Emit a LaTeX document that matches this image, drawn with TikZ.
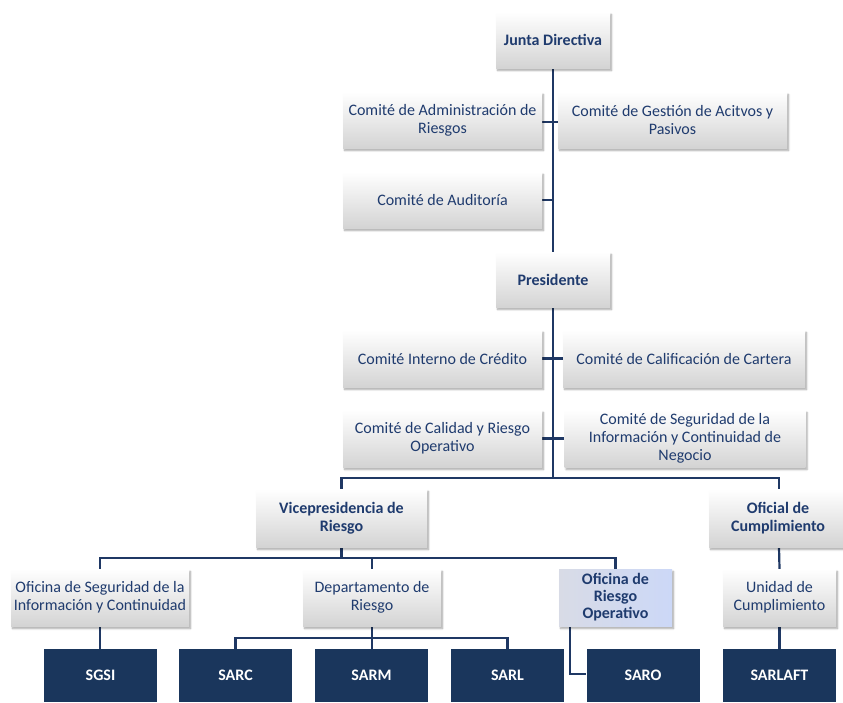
\documentclass[tikz,border=0pt]{standalone}
\usepackage{fontspec}
\setmainfont{Carlito}
\usetikzlibrary{shadows.blur,backgrounds}
\definecolor{linec}{HTML}{1F3864}
\definecolor{boxnavy}{HTML}{1A365C}
\definecolor{txtc}{HTML}{1F3B6E}
\definecolor{oroL}{HTML}{D8DBE6}
\definecolor{oroR}{HTML}{CCD8F7}
\tikzset{
  gbox/.style={shade, top color=white, bottom color=black!17, blur shadow={shadow xshift=1.5pt, shadow yshift=-2.5pt, shadow opacity=35, shadow blur steps=5},
    text=txtc, align=center, inner sep=2pt, font=\fontsize{16}{18.3}\selectfont},
  bbox/.style={gbox, font=\fontsize{16}{18.3}\selectfont\bfseries},
  orobox/.style={shade, left color=oroL, right color=oroR, blur shadow={shadow xshift=1.5pt, shadow yshift=-2.5pt, shadow opacity=35, shadow blur steps=5},
    text=txtc, align=center, inner sep=2pt, font=\fontsize{16}{17}\selectfont\bfseries},
  sbox/.style={fill=boxnavy, text=white, align=center, inner sep=2pt, font=\fontsize{16}{18.3}\selectfont\bfseries, minimum width=113pt, minimum height=53pt},
  conn/.style={draw=linec, line width=2.2pt},
}
\begin{document}
\begin{tikzpicture}[x=1pt,y=-1pt]
\useasboundingbox (0,0) rectangle (843,702);
% top
\node[bbox, minimum width=114pt, minimum height=56pt] (jd) at (553,40) {Junta Directiva};
\node[gbox, minimum width=199pt, minimum height=56pt] (car) at (442.5,120) {Comité de Administración de\\Riesgos};
\node[gbox, minimum width=229pt, minimum height=56pt] (cga) at (672.5,120) {Comité de Gestión de Acitvos y\\Pasivos};
\node[gbox, minimum width=199pt, minimum height=56pt] (cau) at (442.5,200) {Comité de Auditoría};
\node[bbox, minimum width=114pt, minimum height=55pt] (pres) at (553,279.5) {Presidente};
\node[gbox, minimum width=199pt, minimum height=57pt] (cic) at (442.5,358.5) {Comité Interno de Crédito};
\node[gbox, minimum width=242pt, minimum height=57pt] (ccc) at (684,358.5) {Comité de Calificación de Cartera};
\node[gbox, minimum width=199pt, minimum height=57pt] (ccr) at (442.5,438.5) {Comité de Calidad y Riesgo\\Operativo};
\node[gbox, minimum width=241pt, minimum height=57pt] (csi) at (685,438.5) {Comité de Seguridad de la\\Información y Continuidad de\\Negocio};
% middle
\node[bbox, minimum width=171pt, minimum height=58pt] (vp) at (341.5,518) {Vicepresidencia de\\Riesgo};
\node[bbox, minimum width=138pt, minimum height=58pt] (oc) at (778,518) {Oficial de\\Cumplimiento};
\node[gbox, minimum width=178pt, minimum height=57pt] (osi) at (100,597.5) {Oficina de Seguridad de la\\Información y Continuidad};
\node[gbox, minimum width=138pt, minimum height=57pt] (dep) at (372,597.5) {Departamento de\\Riesgo};
\node[orobox, minimum width=113pt, minimum height=57pt] (oro) at (615.5,597.5) {Oficina de\\Riesgo\\Operativo};
\node[gbox, minimum width=113pt, minimum height=57pt] (uc) at (779.5,597.5) {Unidad de\\Cumplimiento};
% bottom
\node[sbox] (sgsi) at (100.5,675.5) {SGSI};
\node[sbox] (sarc) at (235.5,675.5) {SARC};
\node[sbox] (sarm) at (371.5,675.5) {SARM};
\node[sbox] (sarl) at (507.5,675.5) {SARL};
\node[sbox] (saro) at (643,675.5) {SARO};
\node[sbox] (sarlaft) at (779.5,675.5) {SARLAFT};
% connectors
\begin{scope}[on background layer]
\coordinate (b1) at (553,478);
\coordinate (b2) at (341.5,558);
\coordinate (b3) at (372,638);
\draw[conn] (jd.south) -- (pres.north);
\draw[conn] ([yshift=-2pt]car.east) -- ([yshift=-2pt]cga.west);
\draw[conn] (cau.east) -- (jd.south |- cau.east);
\draw[conn] (cic.east) -- (ccc.west);
\draw[conn] (ccr.east) -- (csi.west);
\draw[conn] (pres.south) -- (b1);
\draw[conn] (vp.north) |- (b1) -| ([xshift=1pt]oc.north);
\draw[conn] (vp.south) -- (b2);
\draw[conn] (osi.north) |- (b2) -| (oro.north);
\draw[conn] (dep.north) -- (dep.north |- b2);
\draw[conn] (dep.south) -- (sarm.north -| dep.south);
\draw[conn] (sarc.north) |- (b3) -| (sarl.north);
\draw[conn] ([xshift=-45.5pt]oro.south) |- ([yshift=1.5pt]saro.west);
\draw[conn] ([xshift=1pt]oc.south) -- (uc.north);
\draw[conn] (uc.south) -- (sarlaft.north);
\draw[conn] (osi.south) -- (osi.south |- sgsi.north);
\end{scope}
\end{tikzpicture}
\end{document}
